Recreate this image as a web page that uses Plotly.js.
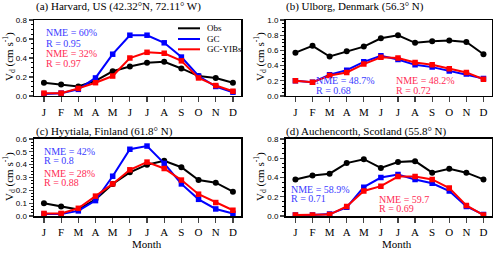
<!DOCTYPE html>
<html><head><meta charset="utf-8">
<script src="https://cdn.plot.ly/plotly-3.0.1.min.js"></script>
<style>html,body{margin:0;padding:0;background:#fff}#c{width:500px;height:253px}</style>
</head><body><div id="c"></div>
<script>
const months = [1,2,3,4,5,6,7,8,9,10,11,12];
const monthLabels = ['J','F','M','A','M','J','J','A','S','O','N','D'];

const harvardObs  = [0.14,0.12,0.10,0.16,0.26,0.31,0.35,0.36,0.29,0.21,0.19,0.14];
const harvardGC   = [0.02,0.03,0.07,0.19,0.44,0.64,0.64,0.56,0.41,0.21,0.10,0.04];
const harvardYIBs = [0.03,0.03,0.08,0.14,0.21,0.40,0.46,0.45,0.37,0.19,0.11,0.05];

const ulborgObs  = [0.57,0.66,0.52,0.59,0.65,0.76,0.80,0.70,0.72,0.73,0.71,0.55];
const ulborgGC   = [0.20,0.18,0.28,0.34,0.45,0.53,0.48,0.41,0.38,0.33,0.29,0.23];
const ulborgYIBs = [0.20,0.18,0.27,0.31,0.42,0.51,0.50,0.44,0.41,0.36,0.31,0.22];

const hyytialaObs  = [0.10,0.075,0.05,0.13,0.25,0.34,0.40,0.43,0.38,0.28,0.26,0.19];
const hyytialaGC   = [0.015,0.015,0.04,0.12,0.31,0.52,0.545,0.41,0.25,0.13,0.055,0.02];
const hyytialaYIBs = [0.02,0.02,0.06,0.155,0.25,0.36,0.42,0.37,0.28,0.17,0.105,0.045];

const auchObs  = [0.38,0.42,0.44,0.55,0.59,0.50,0.56,0.57,0.45,0.49,0.45,0.38];
const auchGC   = [0.01,0.01,0.02,0.09,0.30,0.40,0.43,0.38,0.34,0.26,0.10,0.015];
const auchYIBs = [0.01,0.01,0.015,0.10,0.26,0.31,0.41,0.41,0.38,0.29,0.11,0.01];

const seriesNames = ['Obs','GC','GC-YIBs'];
const lineColors = ['#000000','#0000ff','#ff0000'];
const markerSymbols = ['circle','square','square'];

const panels = [
  {ax:'', data:[harvardObs,harvardGC,harvardYIBs]},
  {ax:'2', data:[ulborgObs,ulborgGC,ulborgYIBs]},
  {ax:'3', data:[hyytialaObs,hyytialaGC,hyytialaYIBs]},
  {ax:'4', data:[auchObs,auchGC,auchYIBs]}
];

const traces = [];
panels.forEach(p => {
  p.data.forEach((vals,i) => {
    traces.push({
      x: months, y: vals, type:'scatter', mode:'lines+markers', name:seriesNames[i],
      xaxis:'x'+p.ax, yaxis:'y'+p.ax, showlegend:false,
      line:{color:lineColors[i], width:2},
      marker:{color:lineColors[i], symbol:markerSymbols[i], size:i===0?6:5.5}
    });
  });
});

const serif = 'Liberation Serif';
const sans = 'Liberation Sans';
const xRange = [0.42,12.47];

function xax(domain, anchor){
  return {domain:domain, anchor:anchor, range:xRange, tickvals:months, ticktext:monthLabels,
    showline:true, linewidth:1.5, linecolor:'#000', mirror:true, ticks:'outside', ticklen:5, tickwidth:1.2,
    showgrid:false, zeroline:false, tickfont:{family:serif, size:11, color:'#000'}};
}
function xtop(over, anchor){
  return {overlaying:over, anchor:anchor, side:'top', range:xRange, tickvals:months, showticklabels:false,
    showline:false, ticks:'inside', ticklen:4, tickwidth:1.2, tickcolor:'#000', showgrid:false, zeroline:false};
}
function yax(domain, anchor, range, dtick, minor){
  return {domain:domain, anchor:anchor, range:range, dtick:dtick, tick0:0, tickformat:'.1f',
    showline:true, linewidth:1.5, linecolor:'#000', mirror:true, ticks:'outside', ticklen:4, tickwidth:1.2,
    minor:{dtick:minor, ticks:'outside', ticklen:2, tickwidth:1, tickcolor:'#000'},
    showgrid:false, zeroline:false, tickfont:{family:sans, size:8, color:'#000'}};
}
function yright(over, anchor, range, dtick, minor){
  return {overlaying:over, anchor:anchor, side:'right', range:range, dtick:dtick, tick0:0, showticklabels:false,
    showline:false, ticks:'inside', ticklen:4, tickwidth:1.2, tickcolor:'#000',
    minor:{dtick:minor, ticks:'inside', ticklen:2, tickwidth:1, tickcolor:'#000'},
    showgrid:false, zeroline:false};
}
const xL=[0.068,0.482], xR=[0.571,0.983];
const yT=[0.6206,0.9209], yB=[0.1462,0.4506];

const blue='#3b3bff', red='#ff2b55';
function ann(text,x,y,color,size,extra){
  return Object.assign({text:text, xref:'paper', yref:'paper', x:x/500, y:1-y/253, xanchor:'left', yanchor:'middle',
    showarrow:false, font:{family:serif, size:size||10, color:color}}, extra||{});
}
const ylab = 'V<sub>d</sub> (cm s<sup>-1</sup>)';

// manual legend for panel (a): short line samples
const legY = [28.3,39,49.3];
const shapes = legY.map((y,i)=>({type:'line', xref:'paper', yref:'paper', x0:178/500, x1:200/500,
  y0:1-y/253, y1:1-y/253, line:{color:lineColors[i], width:2}}));

const annotations = [
  ann('(a) Harvard, US (42.32°N, 72.11° W)',34,7,'#000',11),
  ann('(b) Ulborg, Denmark (56.3° N)',284,7,'#000',11),
  ann('(c) Hyytiala, Finland (61.8° N)',34,131,'#000',11),
  ann('(d) Auchencorth, Scotland (55.8° N)',284,131,'#000',11),
  ann(ylab,9,57,'#000',11,{textangle:-90, xanchor:'center'}),
  ann(ylab,260,57,'#000',11,{textangle:-90, xanchor:'center'}),
  ann(ylab,9,177,'#000',11,{textangle:-90, xanchor:'center'}),
  ann(ylab,260,177,'#000',11,{textangle:-90, xanchor:'center'}),
  ann('Month',147,244,'#000',11,{xanchor:'center'}),
  ann('Month',397,244,'#000',11,{xanchor:'center'}),
  ann(seriesNames[0],205,legY[0],'#000',9), ann(seriesNames[1],205,legY[1],'#000',9), ann(seriesNames[2],205,legY[2],'#000',9),
  ann('NME = 60%',44,32.5,blue), ann('R = 0.95',44,43,blue),
  ann('NME = 32%',44,53.5,red), ann('R = 0.97',44,64,red),
  ann('NME = 48.7%',314,81,blue), ann('R = 0.68',314,90.5,blue),
  ann('NME = 48.2%',394,81,red), ann('R = 0.72',394,90.5,red),
  ann('NME = 42%',42,151,blue), ann('R = 0.8',42,160,blue),
  ann('NME = 28%',42,173,red), ann('R = 0.88',42,182,red),
  ann('NME = 58.9%',289,189.5,blue), ann('R = 0.71',289,198,blue),
  ann('NME = 59.7',377,199,red), ann('R = 0.69',377,208,red)
];

const layout = {
  width:500, height:253, margin:{l:0,r:0,t:0,b:0}, paper_bgcolor:'#fff', plot_bgcolor:'#fff',
  showlegend:false,
  xaxis:xax(xL,'y'), yaxis:yax(yT,'x',[0,0.8],0.2,0.05),
  xaxis2:xax(xR,'y2'), yaxis2:yax(yT,'x2',[0,1.0],0.2,0.05),
  xaxis3:xax(xL,'y3'), yaxis3:yax(yB,'x3',[0,0.6],0.1,0.025),
  xaxis4:xax(xR,'y4'), yaxis4:yax(yB,'x4',[0,0.8],0.2,0.05),
  xaxis5:xtop('x','y'), xaxis6:xtop('x2','y2'), xaxis7:xtop('x3','y3'), xaxis8:xtop('x4','y4'),
  yaxis5:yright('y','x',[0,0.8],0.2,0.05), yaxis6:yright('y2','x2',[0,1.0],0.2,0.05),
  yaxis7:yright('y3','x3',[0,0.6],0.1,0.025), yaxis8:yright('y4','x4',[0,0.8],0.2,0.05),
  shapes:shapes, annotations:annotations
};
Plotly.newPlot('c', traces, layout, {displayModeBar:false, staticPlot:true});
</script></body></html>
